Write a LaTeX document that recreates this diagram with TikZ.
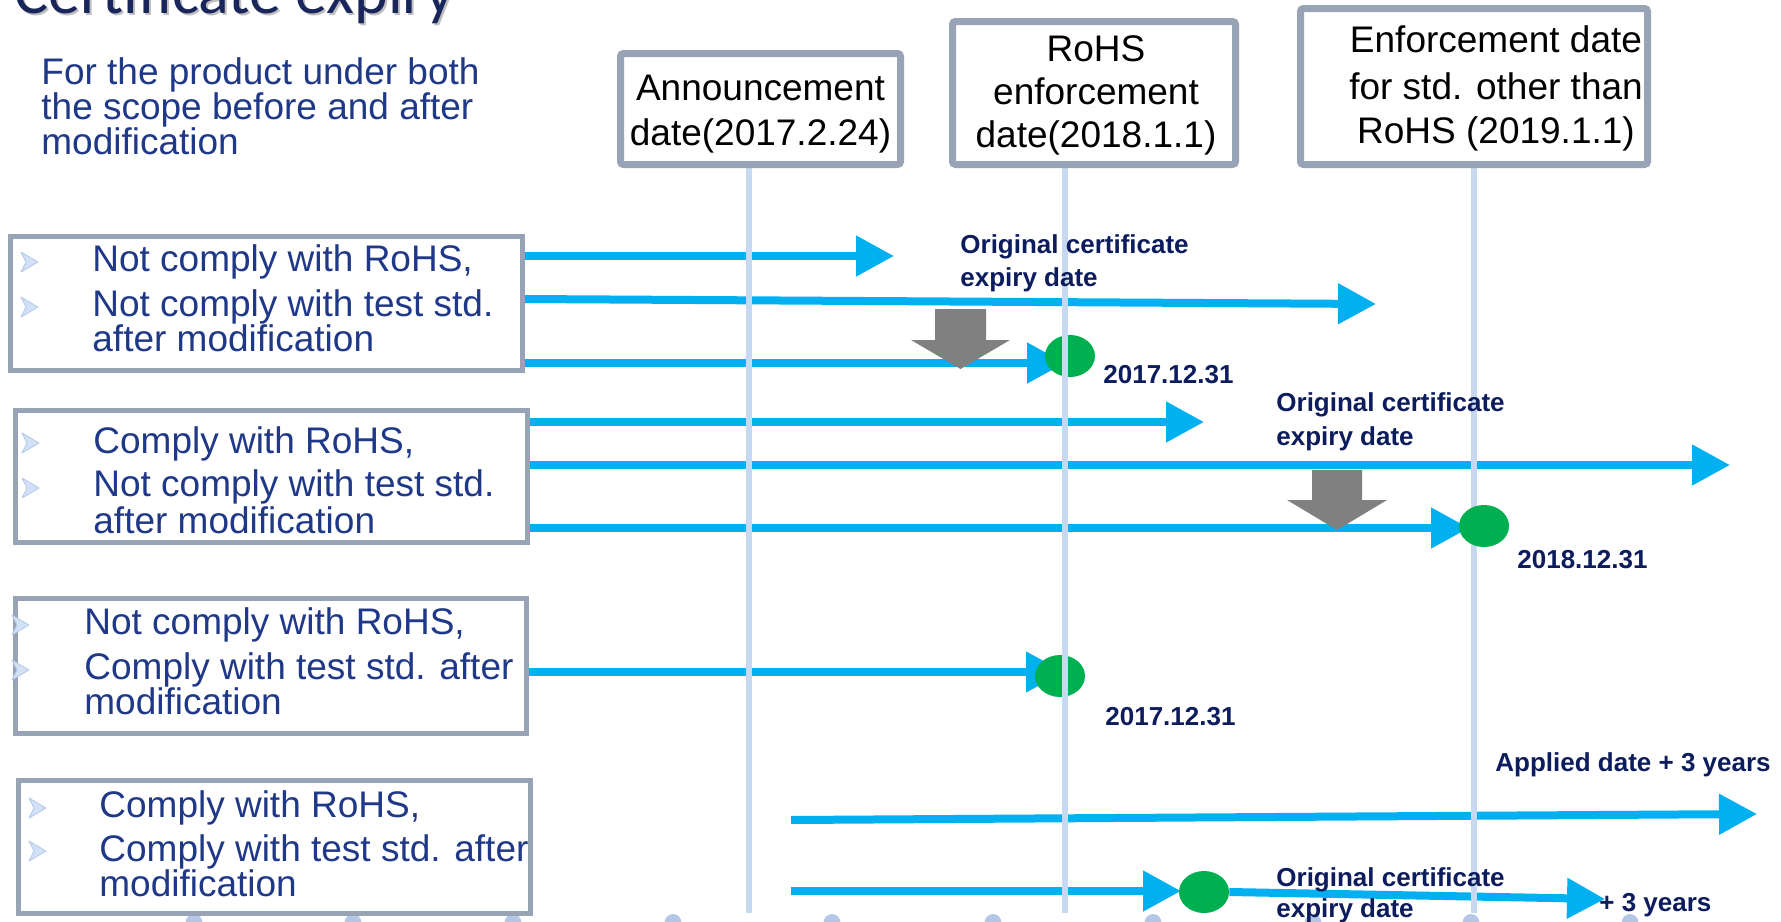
\documentclass[tikz,border=0pt]{standalone}
\usepackage{fontspec}
\setmainfont{Liberation Sans}
\newfontfamily\titlefont{Carlito}
\usetikzlibrary{arrows.meta,shapes.geometric}
\definecolor{arrowblue}{HTML}{00B0F0}
\definecolor{dotgreen}{HTML}{00B050}
\definecolor{vblue}{HTML}{C6D9F1}
\definecolor{dotblue}{HTML}{B4C7E7}
\definecolor{boxgray}{HTML}{98A4B5}
\definecolor{grayarr}{HTML}{808080}
\definecolor{txtblue}{RGB}{31,56,136}
\definecolor{lblnavy}{RGB}{12,28,92}
\definecolor{titlenavy}{RGB}{24,38,92}
\definecolor{bulfill}{HTML}{D3E1F6}
\definecolor{buldraw}{HTML}{B3C8EA}
\begin{document}
\begin{tikzpicture}[x=0.5pt,y=-0.5pt,
  lbox/.style={draw=boxgray, line width=2.5pt, fill=white, inner sep=0pt},
  tbox/.style={draw=boxgray, line width=3.5pt, fill=white, inner sep=0pt, rounded corners=1.5pt},
  btxt/.style={text=txtblue, font=\fontsize{18.5pt}{18.5pt}\selectfont, inner sep=0pt, anchor=base west},
  ttxt/.style={text=black, font=\fontsize{18.5pt}{18.5pt}\selectfont, inner sep=0pt, anchor=base},
  lbl/.style={text=lblnavy, font=\fontsize{13pt}{13pt}\selectfont\bfseries, inner sep=0pt, anchor=base west},
  barrow/.style={draw=arrowblue, line width=4pt, -{Triangle[length=19pt,width=19.5pt]}},
  vline/.style={draw=vblue, line width=3pt},
  gdot/.style={ellipse, fill=dotgreen, inner sep=0pt, minimum width=25pt, minimum height=21pt},
  bul/.style={fill=bulfill, draw=buldraw, line width=0.4pt, line join=round},
  garrow/.style={fill=grayarr}
]
\useasboundingbox (0,0) rectangle (1781,921);
\clip (0,0) rectangle (1781,921);
\fill[white] (0,0) rectangle (1781,921);

% bottom dots
\foreach \x in {194,353,513,673,832,993,1153,1313,1471,1630}
  \fill[dotblue] (\x,923) ellipse [x radius=4.25pt, y radius=4.5pt];

% title
\node[anchor=base west, font=\titlefont\fontsize{32pt}{32pt}\selectfont, text=black!25, inner sep=0pt] (titleshadow) at (16,16) {Certificate expiry};
\node[anchor=base west, font=\titlefont\fontsize{32pt}{32pt}\selectfont, text=titlenavy, inner sep=0pt] (title) at (14,13) {Certificate expiry};

% subtitle
\node[btxt] (s1) at (41,84) {For the product under both};
\node[btxt] (s2) at (41,119) {the scope before and after};
\node[btxt] (s3) at (41,154) {modification};

% left boxes
\node[lbox, minimum width=256pt, minimum height=67pt] (bA) at (266.5,303.5) {};
\node[lbox, minimum width=256pt, minimum height=66pt] (bB) at (271.5,476.5) {};
\node[lbox, minimum width=255.5pt, minimum height=67.5pt] (bC) at (271,666) {};
\node[lbox, minimum width=256pt, minimum height=66.5pt] (bD) at (274.5,847) {};

% coordinates for arrow ends
\coordinate (a1) at (894,256);
\coordinate (a2s) at (525,299);
\coordinate (a2) at (1376,304);
\coordinate (a3) at (1065,363);
\coordinate (b1) at (1204,422);
\coordinate (b2) at (1730,465);
\coordinate (b3) at (1469,528);
\coordinate (c1) at (1064,672);
\coordinate (d1s) at (791,820);
\coordinate (d1) at (1757,814);
\coordinate (d2s) at (791,891);
\coordinate (d2) at (1181,891);
\coordinate (d3) at (1605,899);

% blue arrows
\draw[barrow] (bA.east |- a1) -- (a1);
\draw[barrow] (a2s) -- (a2);
\draw[barrow] (bA.east |- a3) -- (a3);
\draw[barrow] (bB.east |- b1) -- (b1);
\draw[barrow] (bB.east |- b2) -- (b2);
\draw[barrow] (bB.east |- b3) -- (b3);
\draw[barrow] (bC.east |- c1) -- (c1);
\draw[barrow] (d1s) -- (d1);
\draw[barrow] (d2s) -- (d2);

% gray down arrows
\fill[garrow] (935,309) -- (986,309) -- (986,340) -- (1010,340) -- (960.5,369) -- (911,340) -- (935,340) -- cycle;
\fill[garrow] (1312,470) -- (1362,470) -- (1362,500) -- (1387,500) -- (1337,530) -- (1287,500) -- (1312,500) -- cycle;

% green dots (under the timelines)
\node[gdot] (e1) at (1070,356) {};
\node[gdot] (e3) at (1060,676) {};
\node[gdot] (e4) at (1204,892) {};
\draw[barrow] (e4.east) -- (d3);

% vertical timelines
\coordinate (v1) at (749,913);
\coordinate (v2) at (1065,913);
\coordinate (v3) at (1474,913);
\node[tbox, minimum width=140pt, minimum height=55.5pt, draw=none, fill=none] (t1) at (760.5,109) {};
\node[tbox, minimum width=141.5pt, minimum height=71.5pt, draw=none, fill=none] (t2) at (1094,93) {};
\node[tbox, minimum width=173.5pt, minimum height=78pt, draw=none, fill=none] (t3) at (1474,86.5) {};
\draw[vline] (t1.south -| v1) -- (v1);
\draw[vline] (t2.south -| v2) -- (v2);
\draw[vline] (t3.south -| v3) -- (v3);

% green dot above the timeline
\node[gdot] (e2) at (1484,526) {};

% top boxes
\node[tbox, minimum width=140pt, minimum height=55.5pt] (t1b) at (t1) {};
\node[tbox, minimum width=141.5pt, minimum height=71.5pt] (t2b) at (t2) {};
\node[tbox, minimum width=173.5pt, minimum height=78pt] (t3b) at (t3) {};

\node[ttxt] (t1l1) at (760.5,100) {Announcement};
\node[ttxt] (t1l2) at (760.5,145) {date(2017.2.24)};
\node[ttxt] (t2l1) at (1096,61) {RoHS};
\node[ttxt] (t2l2) at (1096,104) {enforcement};
\node[ttxt] (t2l3) at (1096,147) {date(2018.1.1)};
\node[ttxt] (t3l1) at (1496,52) {Enforcement date};
\node[ttxt] (t3l2) at (1496,99) {for std. other than};
\node[ttxt] (t3l3) at (1496,143) {RoHS (2019.1.1)};

% bullets
\foreach \p in {(29,262),(29,307),(30,443),(30,488),(20,625),(20,670),(37,808),(37,851)}
  \filldraw[bul] \p ++(-8,-10) -- ++(17,10) -- ++(-17,10) -- ++(5,-10) -- cycle;

% box texts
\node[btxt] (tA1) at (92,271) {Not comply with RoHS,};
\node[btxt] (tA2) at (92,316) {Not comply with test std.};
\node[btxt] (tA3) at (92,351) {after modification};
\node[btxt] (tB1) at (93,453) {Comply with RoHS,};
\node[btxt] (tB2) at (93,496) {Not comply with test std.};
\node[btxt] (tB3) at (93,533) {after modification};
\node[btxt] (tC1) at (84,634) {Not comply with RoHS,};
\node[btxt] (tC2) at (84,679) {Comply with test std. after};
\node[btxt] (tC3) at (84,714) {modification};
\node[btxt] (tD1) at (99,817) {Comply with RoHS,};
\node[btxt] (tD2) at (99,861) {Comply with test std. after};
\node[btxt] (tD3) at (99,896) {modification};

% labels
\node[lbl] (l1a) at (960,253) {Original certificate};
\node[lbl] (l1b) at (960,286) {expiry date};
\node[lbl] (dt1) at (1103,383) {2017.12.31};
\node[lbl] (l2a) at (1276,411) {Original certificate};
\node[lbl] (l2b) at (1276,445) {expiry date};
\node[lbl] (dt2) at (1517,568) {2018.12.31};
\node[lbl] (dt3) at (1105,725) {2017.12.31};
\node[lbl] (ap) at (1495,771) {Applied date + 3 years};
\node[lbl] (l3a) at (1276,886) {Original certificate};
\node[lbl] (l3b) at (1276,917) {expiry date};
\node[lbl] (p3) at (1599,911) {+ 3 years};
\end{tikzpicture}
\end{document}
